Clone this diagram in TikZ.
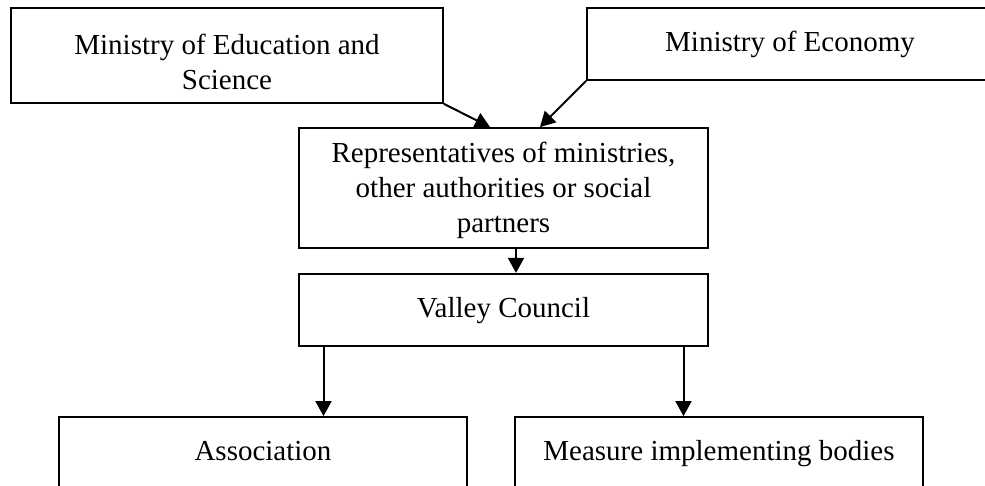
\documentclass[tikz,border=0pt]{standalone}
\usepackage{fontspec}
\setmainfont{Liberation Serif}
\usetikzlibrary{arrows.meta, positioning}

\begin{document}
\begin{tikzpicture}[x=1pt, y=-1pt,
    box/.style={draw, rectangle, line width=1.8pt, inner sep=0pt, align=center,
        font=\fontsize{29}{35}\selectfont},
    oneline/.style={box, text height=22pt, text depth=7pt},
    link/.style={line width=2pt, arrows={-Triangle[length=15pt, width=16pt]}}]
    \useasboundingbox (0,0) rectangle (985,486);

    % Nodes
    \node[box, minimum width=432pt, minimum height=95pt, text height=76pt, text depth=7pt] (education) at (227,55.5)
        {Ministry of Education and\\Science};
    \node[oneline, minimum width=406pt, minimum height=72pt] (economy) at (790,44) {Ministry of Economy};
    \node[box, minimum width=409pt, minimum height=120pt, text height=97pt, text depth=7pt] (representatives) at (503.5,188)
        {Representatives of ministries,\\other authorities or social\\partners};
    \node[oneline, minimum width=409pt, minimum height=72pt, below=24pt of representatives] (council) {Valley Council};
    \node[oneline, minimum width=408pt, minimum height=72pt] (association) at (263,453) {Association};
    \node[oneline, minimum width=408pt, minimum height=72pt] (bodies) at (719,453) {Measure implementing bodies};

    % Connections
    \draw[link] (education.south east) -- ([xshift=-13.5pt]representatives.north);
    \draw[link] (economy.south west) -- ([xshift=36.5pt]representatives.north);
    \draw[link] ([xshift=12.5pt]representatives.south) -- ([xshift=12.5pt]council.north);
    \draw[link] ([xshift=-180pt]council.south) -- ([xshift=-180pt]council.south |- association.north);
    \draw[link] ([xshift=180pt]council.south) -- ([xshift=180pt]council.south |- bodies.north);
\end{tikzpicture}
\end{document}
